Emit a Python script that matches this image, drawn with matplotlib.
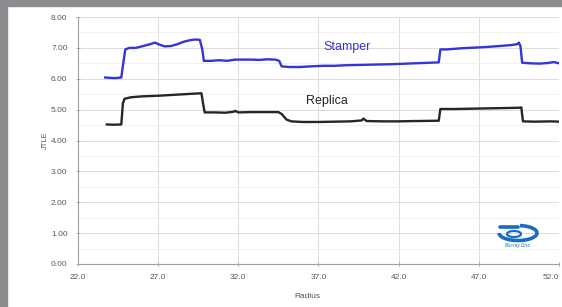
"""JTLE vs radius for stamper and replica discs."""
import matplotlib
matplotlib.use("Agg")
import matplotlib.pyplot as plt
from matplotlib.patches import Arc, Rectangle

plt.rcParams["font.family"] = ["Liberation Sans", "DejaVu Sans"]

# Stamper trace (radius, JTLE)
stamper_r = [23.7, 24.0, 24.3, 24.7, 24.85, 24.95, 25.2, 25.6, 26.0, 26.5, 26.8,
             27.1, 27.4, 27.8, 28.2, 28.6, 29.0, 29.3, 29.6, 29.75, 29.85, 30.3,
             30.8, 31.3, 31.8, 32.3, 32.8, 33.3, 33.8, 34.3, 34.55, 34.7, 35.2,
             35.8, 36.5, 37.3, 38.0, 38.8, 39.8, 40.5, 41.5, 42.5, 43.5, 44.5,
             44.6, 45.0, 45.5, 46.0, 46.8, 47.5, 48.3, 49.0, 49.4, 49.5, 49.6,
             49.7, 50.2, 50.8, 51.3, 51.7, 52.0]
stamper_v = [6.04, 6.03, 6.02, 6.04, 6.60, 6.95, 7.00, 7.00, 7.05, 7.12, 7.17,
             7.10, 7.05, 7.06, 7.12, 7.20, 7.25, 7.27, 7.26, 6.95, 6.58, 6.58,
             6.60, 6.58, 6.62, 6.62, 6.62, 6.61, 6.63, 6.62, 6.58, 6.40, 6.38,
             6.38, 6.40, 6.42, 6.42, 6.44, 6.45, 6.46, 6.47, 6.49, 6.51, 6.53,
             6.95, 6.95, 6.97, 6.99, 7.01, 7.03, 7.06, 7.09, 7.12, 7.17, 7.05,
             6.52, 6.50, 6.49, 6.51, 6.54, 6.50]

# Replica trace (radius, JTLE)
replica_r = [23.8, 24.2, 24.7, 24.8, 24.9, 25.3, 26.0, 27.0, 28.0, 29.0, 29.7,
             29.8, 29.9, 30.5, 31.2, 31.7, 31.8, 32.0, 32.8, 33.5, 34.5, 34.7,
             35.0, 35.3, 36.0, 37.0, 38.0, 39.0, 39.7, 39.8, 40.0, 41.0, 42.0,
             43.0, 44.5, 44.6, 45.5, 46.5, 47.5, 48.5, 49.5, 49.65, 49.75, 50.5,
             51.5, 52.0]
replica_v = [4.52, 4.51, 4.52, 5.20, 5.35, 5.40, 5.43, 5.45, 5.48, 5.51, 5.53,
             5.20, 4.91, 4.91, 4.90, 4.93, 4.96, 4.91, 4.92, 4.92, 4.92, 4.86,
             4.68, 4.62, 4.60, 4.60, 4.61, 4.62, 4.65, 4.71, 4.63, 4.62, 4.62,
             4.63, 4.64, 5.02, 5.02, 5.03, 5.04, 5.05, 5.06, 5.07, 4.62, 4.61,
             4.62, 4.61]

x_ticks = [22.0, 27.0, 32.0, 37.0, 42.0, 47.0, 52.0]
y_ticks = [0, 1, 2, 3, 4, 5, 6, 7, 8]

W, H = 562, 307
fig = plt.figure(figsize=(W / 100, H / 100), dpi=100, facecolor="white")

# grey frame strips (left and top) of the original screenshot
frame = "#8c8c90"
fig.patches.append(Rectangle((0, 0), 7 / W, 1, transform=fig.transFigure,
                             color=frame, zorder=0))
fig.patches.append(Rectangle((0, 1 - 6 / H), 1, 6 / H, transform=fig.transFigure,
                             color=frame, zorder=0))

ax = fig.add_axes([78 / W, 1 - 264 / H, 481 / W, 247 / H])
ax.plot(stamper_r, stamper_v, color="#3434d8", lw=1.7, solid_joinstyle="round")
ax.plot(replica_r, replica_v, color="#262626", lw=1.7, solid_joinstyle="round")

ax.set_xlim(22, 52)
ax.set_ylim(0, 8)
ax.set_xticks(x_ticks)
ax.set_xticklabels([f"{t:.1f}" for t in x_ticks])
ax.set_yticks(y_ticks)
ax.set_yticklabels([f"{t:.2f}" for t in y_ticks])
ax.set_yticks([v + 0.5 for v in y_ticks[:-1]], minor=True)

ax.grid(True, which="major", color="#dcdcdc", lw=0.7)
ax.grid(True, which="minor", axis="y", color="#efefef", lw=0.6)
ax.set_axisbelow(True)
for s in ("top", "right"):
    ax.spines[s].set_visible(False)
for s in ("left", "bottom"):
    ax.spines[s].set_color("#a0a0a0")
    ax.spines[s].set_linewidth(0.8)
ax.tick_params(which="major", direction="inout", length=3, width=0.6,
               color="#a0a0a0", labelsize=6, labelcolor="#5a5a5a", pad=6)
ax.tick_params(which="minor", length=0)
# the last x label is cut by the right edge in the original; pull it in a bit
ax.get_xticklabels()[-1].set_horizontalalignment("right")

ax.text(38.8, 7.02, "Stamper", color="#3434d8", fontsize=9, ha="center", va="center")
ax.text(37.5, 5.27, "Replica", color="#262626", fontsize=9, ha="center", va="center")

fig.text(45 / W, 1 - 140 / H, "JTLE", rotation=90, fontsize=5.5, color="#555555",
         ha="center", va="center")
fig.text(307 / W, 1 - 297 / H, "Radius", fontsize=6, color="#555555",
         ha="center", va="center")

# small Blu-ray style logo
blue = "#1b6cc0"
logo = fig.add_axes([494 / W, 1 - 252 / H, 48 / W, 30 / H])
logo.set_xlim(0, 48)
logo.set_ylim(0, 30)
logo.axis("off")
logo.add_patch(Arc((24, 19), 38, 15, theta1=-180, theta2=75, color=blue, lw=2.6))
logo.plot([6, 24], [25, 25], color=blue, lw=2.6, solid_capstyle="round")
logo.add_patch(Arc((20, 18), 14, 6, theta1=0, theta2=360, color=blue, lw=1.6))
logo.text(24, 6, "Blu-ray Disc", color=blue, fontsize=3.3, style="italic",
          ha="center", va="center")

fig.savefig("out.png", dpi=100, facecolor="white")
